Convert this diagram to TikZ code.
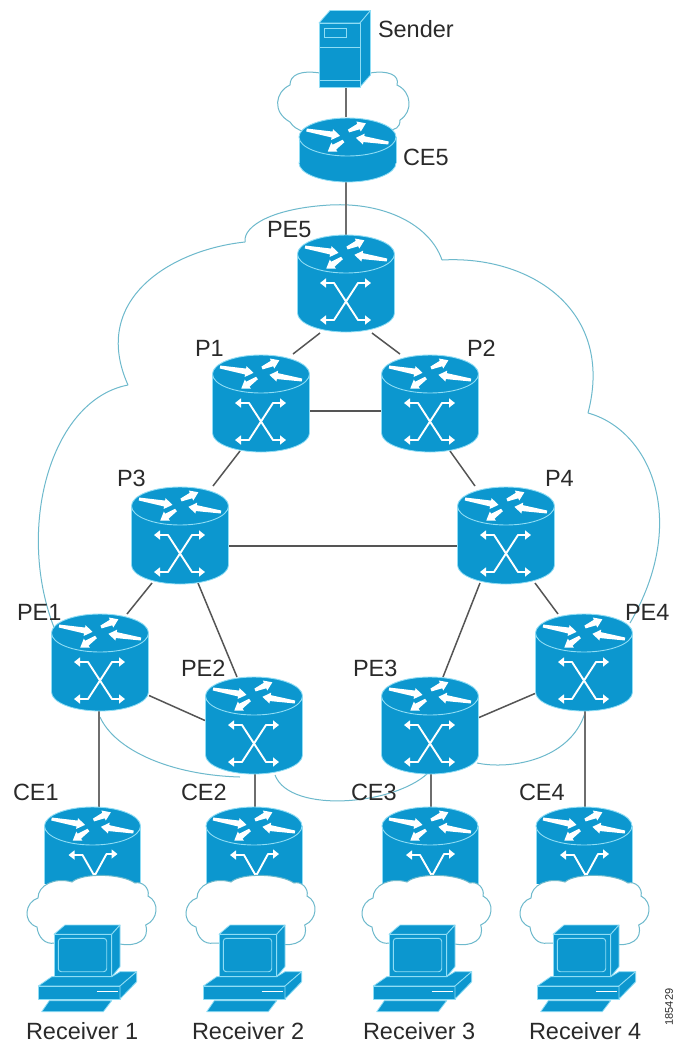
\documentclass[tikz,border=0pt]{standalone}
\usepackage{fontspec}
\setmainfont{Liberation Sans}
\usetikzlibrary{arrows.meta}
\definecolor{cisco}{HTML}{0C97CF}
\definecolor{rim}{HTML}{8FDDF5}
\definecolor{cloudline}{HTML}{6DB9CC}
\definecolor{linkgray}{HTML}{555555}
\definecolor{inktext}{HTML}{2A2A2A}
\tikzset{
  box/.style={rectangle,minimum width=98pt,minimum height=97pt,inner sep=0pt,outer sep=0pt},
  flatbox/.style={rectangle,minimum width=98pt,minimum height=65pt,inner sep=0pt,outer sep=0pt},
  srvbox/.style={rectangle,minimum width=41pt,minimum height=64pt,inner sep=0pt,outer sep=0pt},
  link/.style={draw=linkgray,line width=1.5pt},
  droplink/.style={draw=linkgray!85,line width=1.8pt},
  cloudln/.style={draw=cloudline,line width=1pt},
  lbl/.style={anchor=base west,inner sep=0pt,outer sep=0pt,text=inktext,font=\fontsize{23.5}{23.5}\selectfont},
  iconface/.style={fill=cisco,draw=rim,line width=0.8pt,line join=round},
  sym/.style={draw=white,line width=1.9pt,line join=round,{Triangle[length=6pt,width=9pt]}-{Triangle[length=6pt,width=9pt]}},
  symone/.style={draw=white,line width=1.9pt,line join=round,{Triangle[length=6pt,width=9pt]}-},
  pale/.style={draw=rim,line width=0.9pt},
}
\newcommand{\rtarrow}[4]{%
  \fill[white,shift={(#1,#2)},rotate=#3]
    (0,-1.5) -- (#4-8,-3) -- (#4-8,-5.5) -- (#4,0) -- (#4-8,5.5) -- (#4-8,3) -- (0,1.5) -- cycle;}
\newcommand{\roarrows}{%
  \rtarrow{-41}{-7}{-10}{34}
  \rtarrow{1}{-6}{24}{19}
  \rtarrow{41}{6}{171}{33}
  \rtarrow{-4}{4}{214}{19}}
\newcommand{\cylbody}[1]{%
  \fill[cisco,draw=rim,line width=0.8pt] (0,#1) ellipse [x radius=48.5,y radius=19];
  \fill[cisco] (-48.5,0) rectangle (48.5,#1);
  \draw[pale] (-48.5,0) -- (-48.5,#1) (48.5,0) -- (48.5,#1);
  \fill[cisco,draw=rim,line width=0.9pt] (0,0) ellipse [x radius=48.5,y radius=19];
  \roarrows}
\newcommand{\xsym}{%
  \draw[sym] (-26,29) -- (-12,29) -- (12,66) -- (25,66);
  \draw[sym] (25,29) -- (12,29) -- (-12,66) -- (-26,66);}
\newcommand{\ysym}{%
  \draw[symone] (-24,29) -- (-10,29) -- (2,50);
  \draw[symone] (25,28) -- (14,28) -- (2,50);
  \draw[white,line width=1.9pt] (2,47) -- (2,56);}
\newcommand{\fullrouter}[2]{%
  \begin{scope}[shift={(#1,#2)}]\cylbody{59}\xsym\end{scope}}
\newcommand{\edgerouter}[2]{%
  \begin{scope}[shift={(#1,#2)}]
    \fill[cisco] (-48,0) rectangle (48,58);
    \draw[pale] (-48,0) -- (-48,58) (48,0) -- (48,58);
    \fill[cisco,draw=rim,line width=0.9pt] (0,0) ellipse [x radius=48,y radius=19];
    \roarrows\ysym
  \end{scope}}
\newcommand{\lowcloud}[2]{%
  \begin{scope}[shift={(#1,#2)}]
    \path[fill=white,cloudln] (30,34)
      .. controls (47,37) and (60,30) .. (55.7,15)
      .. controls (68,10) and (70,-8) .. (58,-14)
      .. controls (60,-22) and (52,-29) .. (45,-27)
      .. controls (30,-37) and (-8,-37) .. (-18,-28)
      .. controls (-35,-33) and (-52,-25) .. (-52,-12)
      .. controls (-65,-8) and (-68,12) .. (-53,17)
      .. controls (-52,27) and (-45,35) .. (-35,33) -- cycle;
  \end{scope}}
\newcommand{\computer}[2]{%
  \begin{scope}[shift={(#1,#2)}]
    \path[iconface] (-48.3,101.7) -- (-40.7,90.7) -- (21.7,90.7) -- (13.3,101.7) -- cycle;
    \path[iconface] (-51.7,76) -- (-38.3,66.7) -- (21.7,66.7) -- (30,61.7) -- (46.7,61.7) -- (30,76) -- cycle;
    \path[iconface] (-51.7,76) rectangle (30,89);
    \path[iconface] (30,76) -- (46.7,61.7) -- (46.7,71.7) -- (30,89) -- cycle;
    \draw[white,line width=0.9pt] (6.7,81.7) -- (28.3,81.7);
    \path[iconface] (-36,24.3) -- (-25,15) -- (30,15) -- (21.7,24.3) -- cycle;
    \path[iconface] (21.7,24.3) -- (30,15) -- (30,56.7) -- (21.7,66.7) -- cycle;
    \path[iconface] (-36,24.3) rectangle (21.7,66.7);
    \draw[pale,rounded corners=3pt] (-31.7,28.3) rectangle (16.7,61.7);
  \end{scope}}
\begin{document}
\begin{tikzpicture}[x=1pt,y=-1pt]
\useasboundingbox (0,0) rectangle (676,1042);
\fill[white] (0,0) rectangle (676,1042);
% anchor nodes
\node[srvbox]  (srv) at (340,55) {};
\node[flatbox] (ce5) at (347.5,149.5) {};
\node[box] (pe5) at (346,284.5) {};
\node[box] (p1) at (261,402.5) {};
\node[box] (p2) at (430,402.5) {};
\node[box] (p3) at (180,534.5) {};
\node[box] (p4) at (506,534.5) {};
\node[box] (pe1) at (100,662.5) {};
\node[box] (pe2) at (254,725.5) {};
\node[box] (pe3) at (430,725.5) {};
\node[box] (pe4) at (584,662.5) {};
\node[box] (ce1) at (92.5,855.5) {};
\node[box] (ce2) at (254,855.5) {};
\node[box] (ce3) at (430,855.5) {};
\node[box] (ce4) at (584,855.5) {};
% backbone cloud
\draw[cloudln] (245,242) .. controls (243,225) and (275,208) .. (330,205)
  .. controls (385,202) and (430,225) .. (442,260);
\draw[cloudln] (442,260) .. controls (530,255) and (615,310) .. (588,413);
\draw[cloudln] (588,413) .. controls (650,430) and (690,520) .. (630,623);
\draw[cloudln] (245,242) .. controls (170,250) and (90,300) .. (128,385);
\draw[cloudln] (128,385) .. controls (50,400) and (15,530) .. (55,630);
\draw[cloudln] (585,713) .. controls (570,760) and (510,770) .. (477,763);
\draw[cloudln] (431,770) .. controls (400,805) and (290,815) .. (275,775);
\draw[cloudln] (240,777) .. controls (170,775) and (115,750) .. (100,717);
% sender cloud
\draw[cloudln] (370,73) .. controls (388,70) and (400,75) .. (397,85)
  .. controls (412,92) and (413,112) .. (400,120)
  .. controls (400,128) and (395,130) .. (388,130);
\draw[cloudln] (320,73) .. controls (300,70) and (290,75) .. (290,85)
  .. controls (275,92) and (272,112) .. (290,122)
  .. controls (293,127) and (298,130) .. (305,132);
% connectors
\draw[droplink] ([xshift=6pt]srv.south) -- ([xshift=-1.5pt]ce5.north);
\draw[droplink] ([xshift=-1.5pt]ce5.south) -- (pe5.north);
\path[link] ([xshift=-26pt]pe5.south) -- ([xshift=32pt]p1.north);
\path[link] ([xshift=26pt]pe5.south) -- ([xshift=-30pt]p2.north);
\path[link] ([yshift=-8.5pt]p1.east) -- ([yshift=-8.5pt]p2.west);
\path[link] ([xshift=-21pt]p1.south) -- ([xshift=33pt]p3.north);
\path[link] ([xshift=20pt]p2.south) -- ([xshift=-31pt]p4.north);
\path[link] ([yshift=-11.5pt]p3.east) -- ([yshift=-11.5pt]p4.west);
\path[link] ([xshift=-28pt]p3.south) -- ([xshift=27pt]pe1.north);
\path[link] ([xshift=18pt]p3.south) -- ([xshift=-17pt]pe2.north);
\path[link] ([xshift=-26pt]p4.south) -- ([xshift=13pt]pe3.north);
\path[link] ([xshift=29pt]p4.south) -- ([xshift=-26pt]pe4.north);
\path[link] ([yshift=-33pt]pe1.east) -- ([yshift=5pt]pe2.west);
\path[link] ([yshift=8pt]pe3.east) -- ([yshift=-31pt]pe4.west);
\path[droplink] ([xshift=-1pt]pe1.south) -- ([xshift=6.5pt]ce1.north);
\path[droplink] ([xshift=1pt]pe2.south) -- ([xshift=1pt]ce2.north);
\path[droplink] ([xshift=1pt]pe3.south) -- ([xshift=1pt]ce3.north);
\path[droplink] ([xshift=1pt]pe4.south) -- ([xshift=1pt]ce4.north);
% server
\path[iconface] (319,23) -- (330,10.5) -- (370.5,10.5) -- (360,23) -- cycle;
\path[iconface] (360,23) -- (370.5,10.5) -- (370.5,75) -- (360,87) -- cycle;
\path[iconface] (319,23) rectangle (360,87);
\draw[pale] (324,28) rectangle (346,37);
\draw[pale] (319,47) -- (360,47) (319,80) -- (360,80);
% CE5
\begin{scope}[shift={(347.5,137)}]\cylbody{26}\end{scope}
% core routers
\fullrouter{346}{254}
\fullrouter{261}{374}
\fullrouter{430}{374}
\fullrouter{180}{506}
\fullrouter{506}{506}
\fullrouter{100}{633}
\fullrouter{254}{696}
\fullrouter{430}{696}
\fullrouter{584}{633}
% customer edge
\edgerouter{92.5}{826}
\edgerouter{254}{826}
\edgerouter{430}{826}
\edgerouter{584}{826}
\lowcloud{90}{910}
\lowcloud{249}{910}
\lowcloud{425}{910}
\lowcloud{583}{910}
\computer{90}{910}
\computer{255}{910}
\computer{425}{910}
\computer{589}{910}
% labels
\node[lbl] (tS) at (378,37) {Sender};
\node[lbl] (tCE5) at (403,165) {CE5};
\node[lbl] (tPE5) at (267,237) {PE5};
\node[lbl] (tP1) at (195,356) {P1};
\node[lbl] (tP2) at (467,356) {P2};
\node[lbl] (tP3) at (117,486) {P3};
\node[lbl] (tP4) at (545,486) {P4};
\node[lbl] (tPE1) at (17,620) {PE1};
\node[lbl] (tPE4) at (625,620) {PE4};
\node[lbl] (tPE2) at (181,676) {PE2};
\node[lbl] (tPE3) at (353,676) {PE3};
\node[lbl] (tCE1) at (13,800) {CE1};
\node[lbl] (tCE2) at (181,800) {CE2};
\node[lbl] (tCE3) at (351,800) {CE3};
\node[lbl] (tCE4) at (519,800) {CE4};
\node[lbl] (tR1) at (26,1039) {Receiver 1};
\node[lbl] (tR2) at (192,1039) {Receiver 2};
\node[lbl] (tR3) at (363,1039) {Receiver 3};
\node[lbl] (tR4) at (529,1039) {Receiver 4};
\node[inner sep=0pt,rotate=90,text=inktext,font=\fontsize{11}{11}\selectfont] (tNum) at (669,1007) {185429};
\end{tikzpicture}
\end{document}
